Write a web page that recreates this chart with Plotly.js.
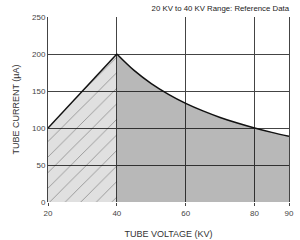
<!DOCTYPE html>
<html><head><meta charset="utf-8">
<script src="https://cdn.plot.ly/plotly-3.0.1.min.js"></script>
<style>html,body{margin:0;padding:0;background:#fff}#c{width:300px;height:240px}</style>
</head><body><div id="c"></div>
<script>
const rampVoltage = [20, 40];
const rampCurrent = [100, 200];
const curveVoltage = [40, 45, 50, 55, 60, 65, 70, 75, 80, 85, 90];
const curveCurrent = [200, 177.8, 160, 145.5, 133.3, 123.1, 114.3, 106.7, 100, 94.1, 88.9];
const xTicks = [20, 40, 60, 80, 90];
const yTicks = [0, 50, 100, 150, 200, 250];

const font = 'Liberation Sans, Arial, sans-serif';
const traces = [
  {x: rampVoltage, y: rampCurrent, mode: 'lines', fill: 'tozeroy',
   line: {color: '#111', width: 1.5},
   fillcolor: 'rgba(0,0,0,0.12)',
   fillpattern: {shape: '/', bgcolor: 'rgba(0,0,0,0.12)', fgcolor: 'rgba(0,0,0,0.35)', size: 11, solidity: 0.08},
   hoverinfo: 'skip'},
  {x: curveVoltage, y: curveCurrent, mode: 'lines', fill: 'tozeroy',
   line: {color: '#111', width: 1.5, shape: 'spline', smoothing: 1},
   fillcolor: 'rgba(0,0,0,0.28)', hoverinfo: 'skip'}
];
const layout = {
  width: 300, height: 240,
  margin: {l: 48, r: 11, t: 17, b: 38},
  paper_bgcolor: '#fff', plot_bgcolor: '#fff',
  showlegend: false,
  font: {family: font, size: 8, color: '#333'},
  title: {text: '20 KV to 40 KV Range: Reference Data', x: 1, xanchor: 'right', xref: 'paper', y: 0.975, yanchor: 'top', font: {family: font, size: 7.8, color: '#222'}},
  xaxis: {range: [20, 90], tickvals: xTicks, ticktext: xTicks.map(String), showgrid: true, gridcolor: '#444', gridwidth: 1,
    zeroline: false, showline: false, ticks: 'outside', ticklen: 3, tickcolor: '#444', tickwidth: 1,
    tickfont: {size: 8, color: '#444'},
    title: {text: 'TUBE VOLTAGE (KV)', font: {size: 9, color: '#333'}, standoff: 14}},
  yaxis: {range: [0, 250], tickvals: yTicks, showgrid: true, gridcolor: '#444', gridwidth: 1,
    zeroline: false, showline: true, linecolor: '#444', mirror: true, ticks: '',
    tickfont: {size: 8, color: '#444'},
    title: {text: 'TUBE CURRENT (µA)', font: {size: 9, color: '#333'}, standoff: 10}}
};
Plotly.newPlot('c', traces, layout, {displayModeBar: false, staticPlot: true});
</script></body></html>
